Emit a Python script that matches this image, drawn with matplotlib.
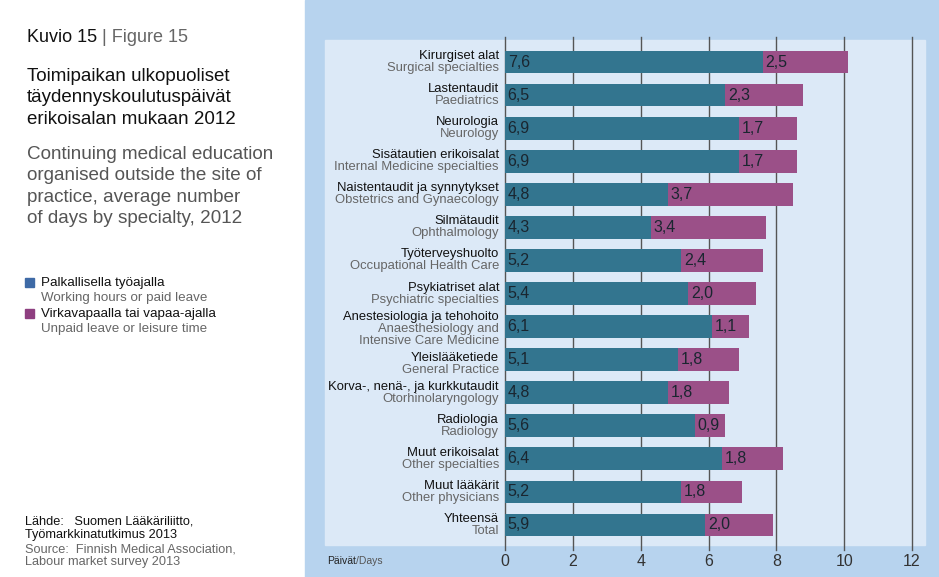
import matplotlib.pyplot as plt
from matplotlib.patches import Rectangle

plt.rcParams['font.family'] = ['Liberation Sans', 'DejaVu Sans']

# data
fi_labels = ["Kirurgiset alat", "Lastentaudit", "Neurologia", "Sisätautien erikoisalat",
             "Naistentaudit ja synnytykset", "Silmätaudit", "Työterveyshuolto",
             "Psykiatriset alat", "Anestesiologia ja tehohoito", "Yleislääketiede",
             "Korva-, nenä-, ja kurkkutaudit", "Radiologia", "Muut erikoisalat",
             "Muut lääkärit", "Yhteensä"]
en_labels = ["Surgical specialties", "Paediatrics", "Neurology", "Internal Medicine specialties",
             "Obstetrics and Gynaecology", "Ophthalmology", "Occupational Health Care",
             "Psychiatric specialties", "Anaesthesiology and\nIntensive Care Medicine",
             "General Practice", "Otorhinolaryngology", "Radiology", "Other specialties",
             "Other physicians", "Total"]
paid = [7.6, 6.5, 6.9, 6.9, 4.8, 4.3, 5.2, 5.4, 6.1, 5.1, 4.8, 5.6, 6.4, 5.2, 5.9]
unpaid = [2.5, 2.3, 1.7, 1.7, 3.7, 3.4, 2.4, 2.0, 1.1, 1.8, 1.8, 0.9, 1.8, 1.8, 2.0]
xticks = [0, 2, 4, 6, 8, 10, 12]

W, H = 939, 577
fig = plt.figure(figsize=(W / 100, H / 100), dpi=100)

def fx(px):
    return px / W

def fy(py):
    return 1 - py / H

# backgrounds
fig.patches.append(Rectangle((fx(305), 0), fx(W - 305), 1, transform=fig.transFigure,
                             color='#b7d3ee', zorder=-2))
fig.patches.append(Rectangle((fx(325), fy(545)), fx(600), (505) / H, transform=fig.transFigure,
                             color='#dce9f7', zorder=-1))

ax = fig.add_axes([fx(505), fy(550), fx(407), 513 / H])
ax.set_facecolor('none')
y = list(range(len(paid)))
ax.barh(y, paid, height=0.69, color='#33758f', zorder=2)
ax.barh(y, unpaid, left=paid, height=0.69, color='#9b5088', zorder=2)
for i in y:
    ax.text(0.08, i, f"{paid[i]:.1f}".replace('.', ','), va='center', ha='left',
            fontsize=11.5, color='#1a2630', zorder=3)
    ax.text(paid[i] + 0.08, i, f"{unpaid[i]:.1f}".replace('.', ','), va='center', ha='left',
            fontsize=11.5, color='#1a2630', zorder=3)
ax.set_xlim(0, 12)
ax.set_ylim(14.756, -0.756)
for t in xticks:
    ax.axvline(t, color='#555555', lw=1, zorder=1, clip_on=False)
ax.set_xticks(xticks)
ax.set_xticklabels([str(t) for t in xticks], fontsize=11.5, color='#333333')
ax.tick_params(axis='x', length=0, pad=3)
ax.set_yticks([])
for s in ax.spines.values():
    s.set_visible(False)

# category labels, two lines (three for anaesthesiology)
for i in y:
    n_en = en_labels[i].count('\n') + 1
    if n_en > 1:
        top = -9.5
    elif fi_labels[i] == "Yleislääketiede":
        top = -2
    else:
        top = -6
    ax.annotate(fi_labels[i], xy=(0, i), xycoords='data', xytext=(-6, -top),
                textcoords='offset pixels', ha='right', va='center', fontsize=9.4,
                color='#111111')
    for k, line in enumerate(en_labels[i].split('\n')):
        ax.annotate(line, xy=(0, i), xycoords='data', xytext=(-6, -(top + 12 * (k + 1))),
                    textcoords='offset pixels', ha='right', va='center', fontsize=9.4,
                    color='#666666')

fig.text(fx(327), fy(561), "Päivät", fontsize=7.5, color='#222222', va='center')
fig.text(fx(356), fy(561), "/Days", fontsize=7.5, color='#555555', va='center')

# left panel text
fig.text(fx(27), fy(38), "Kuvio 15", fontsize=13, color='#111111', va='center')
fig.text(fx(102), fy(38), "| Figure 15", fontsize=13, color='#666666', va='center')
fig.text(fx(27), fy(68), "Toimipaikan ulkopuoliset\ntäydennyskoulutuspäivät\nerikoisalan mukaan 2012",
         fontsize=13.5, color='#111111', va='top', linespacing=1.33)
fig.text(fx(27), fy(146), "Continuing medical education\norganised outside the site of\n"
         "practice, average number\nof days by specialty, 2012",
         fontsize=13.6, color='#555555', va='top', linespacing=1.33)

fig.patches.append(Rectangle((fx(25), fy(287)), fx(9), 9 / H, transform=fig.transFigure,
                             color='#3e6aa6'))
fig.patches.append(Rectangle((fx(25), fy(318)), fx(9), 9 / H, transform=fig.transFigure,
                             color='#8e3f80'))
fig.text(fx(41), fy(283), "Palkallisella työajalla", fontsize=9.6, color='#111111', va='center')
fig.text(fx(41), fy(298), "Working hours or paid leave", fontsize=9.6, color='#666666', va='center')
fig.text(fx(41), fy(314), "Virkavapaalla tai vapaa-ajalla", fontsize=9.6, color='#111111', va='center')
fig.text(fx(41), fy(329), "Unpaid leave or leisure time", fontsize=9.6, color='#666666', va='center')

fig.text(fx(25), fy(522), "Lähde:   Suomen Lääkäriliitto,", fontsize=9.2, color='#111111', va='center')
fig.text(fx(25), fy(535), "Työmarkkinatutkimus 2013", fontsize=9.2, color='#111111', va='center')
fig.text(fx(25), fy(549), "Source:  Finnish Medical Association,", fontsize=9.2, color='#666666', va='center')
fig.text(fx(25), fy(562), "Labour market survey 2013", fontsize=9.2, color='#666666', va='center')

fig.savefig("out.png", dpi=100)
